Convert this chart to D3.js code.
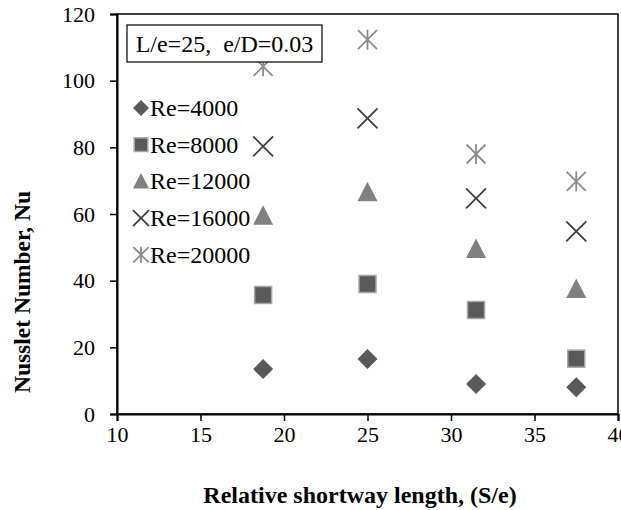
<!DOCTYPE html>
<html>
<head>
<meta charset="utf-8">
<script src="https://cdn.jsdelivr.net/npm/d3@7"></script>
<style>
  body { margin: 0; background: #fff; }
  svg { font-family: "Liberation Serif", "Times New Roman", serif; }
</style>
</head>
<body>
<div id="chart"></div>
<script>
/* Nusselt number vs relative shortway length */

const shortway = [18.75, 25, 31.5, 37.5];
const re4000 = [13.5, 16.5, 9, 8];
const re8000 = [35.7, 39, 31.2, 16.6];
const re12000 = [59.5, 66.5, 49.5, 37.5];
const re16000 = [80.3, 88.7, 64.7, 54.8];
const re20000 = [104.3, 112.3, 78, 69.8];
const seriesNames = ["Re=4000", "Re=8000", "Re=12000", "Re=16000", "Re=20000"];
const xTicks = [10, 15, 20, 25, 30, 35, 40];
const yTicks = [0, 20, 40, 60, 80, 100, 120];

const width = 621, height = 510;
const margin = { top: 14, right: 3, bottom: 96, left: 117 };
const plotW = width - margin.left - margin.right;
const plotH = height - margin.top - margin.bottom;

const svg = d3.select("#chart").append("svg")
  .attr("width", width)
  .attr("height", height);

const x = d3.scaleLinear().domain([10, 40]).range([margin.left, margin.left + plotW]);
const y = d3.scaleLinear().domain([0, 120]).range([margin.top + plotH, margin.top]);

// frame
svg.append("rect")
  .attr("x", margin.left)
  .attr("y", margin.top)
  .attr("width", plotW)
  .attr("height", plotH)
  .attr("fill", "none")
  .attr("stroke", "#000")
  .attr("stroke-width", 1.5);

const xAxis = svg.append("g")
  .attr("transform", `translate(0,${margin.top + plotH})`)
  .call(d3.axisBottom(x).tickValues(xTicks).tickSize(7).tickPadding(5));
const yAxis = svg.append("g")
  .attr("transform", `translate(${margin.left},0)`)
  .call(d3.axisLeft(y).tickValues(yTicks).tickSize(7).tickPadding(15));

[xAxis, yAxis].forEach(g => {
  g.select(".domain").attr("stroke", "#000").attr("stroke-width", 2);
  g.selectAll(".tick line").attr("stroke", "#000").attr("stroke-width", 1.5);
  g.selectAll(".tick text")
    .attr("font-family", "Liberation Serif")
    .attr("font-size", 22)
    .attr("fill", "#000");
});

// axis titles
svg.append("text")
  .attr("x", 360)
  .attr("y", 503)
  .attr("text-anchor", "middle")
  .attr("font-size", 24)
  .attr("font-weight", "bold")
  .text("Relative shortway length, (S/e)");

svg.append("text")
  .attr("transform", "translate(30,292) rotate(-90)")
  .attr("text-anchor", "middle")
  .attr("font-size", 23.5)
  .attr("font-weight", "bold")
  .text("Nusslet Number, Nu");

// marker drawing
const styles = [
  { data: re4000, shape: "diamond", fill: "#595959" },
  { data: re8000, shape: "square", fill: "#595959" },
  { data: re12000, shape: "triangle", fill: "#808080" },
  { data: re16000, shape: "cross", fill: "#404040" },
  { data: re20000, shape: "star", fill: "#8c8c8c" }
];

function drawMarker(g, shape, fill, cx, cy, s) {
  if (shape === "diamond") {
    g.append("path")
      .attr("d", `M${cx},${cy - s}L${cx + s},${cy}L${cx},${cy + s}L${cx - s},${cy}Z`)
      .attr("fill", fill);
  } else if (shape === "square") {
    g.append("rect")
      .attr("x", cx - s * 0.85).attr("y", cy - s * 0.85)
      .attr("width", s * 1.7).attr("height", s * 1.7)
      .attr("fill", fill).attr("stroke", "#a6a6a6").attr("stroke-width", 1.5);
  } else if (shape === "triangle") {
    g.append("path")
      .attr("d", `M${cx},${cy - s * 1.05}L${cx + s},${cy + s * 0.9}L${cx - s},${cy + s * 0.9}Z`)
      .attr("fill", fill);
  } else if (shape === "cross") {
    const r = s;
    g.append("path")
      .attr("d", `M${cx - r},${cy - r}L${cx + r},${cy + r}M${cx - r},${cy + r}L${cx + r},${cy - r}`)
      .attr("stroke", fill).attr("stroke-width", 1.8).attr("fill", "none");
  } else if (shape === "star") {
    const r = s * 0.95;
    g.append("path")
      .attr("d", `M${cx - r},${cy - r}L${cx + r},${cy + r}M${cx - r},${cy + r}L${cx + r},${cy - r}M${cx},${cy - r * 1.05}L${cx},${cy + r * 1.05}`)
      .attr("stroke", fill).attr("stroke-width", 1.8).attr("fill", "none");
  }
}

const marks = svg.append("g");
styles.forEach(st => {
  st.data.forEach((v, i) => {
    drawMarker(marks, st.shape, st.fill, x(shortway[i]), y(v), 10);
  });
});

// annotation box
svg.append("rect")
  .attr("x", 127).attr("y", 25)
  .attr("width", 195).attr("height", 37)
  .attr("fill", "#fff").attr("stroke", "#000").attr("stroke-width", 1.2);
svg.append("text")
  .attr("x", 224.5).attr("y", 51.5)
  .attr("text-anchor", "middle")
  .attr("font-size", 24)
  .text("L/e=25,\u00a0 e/D=0.03");

// legend
const legend = svg.append("g");
seriesNames.forEach((name, i) => {
  const ly = 108 + i * 36.7;
  drawMarker(legend, styles[i].shape, styles[i].fill, 141, ly, 8);
  legend.append("text")
    .attr("x", 150).attr("y", ly + 8)
    .attr("font-size", 24)
    .text(name);
});
</script>
</body>
</html>
